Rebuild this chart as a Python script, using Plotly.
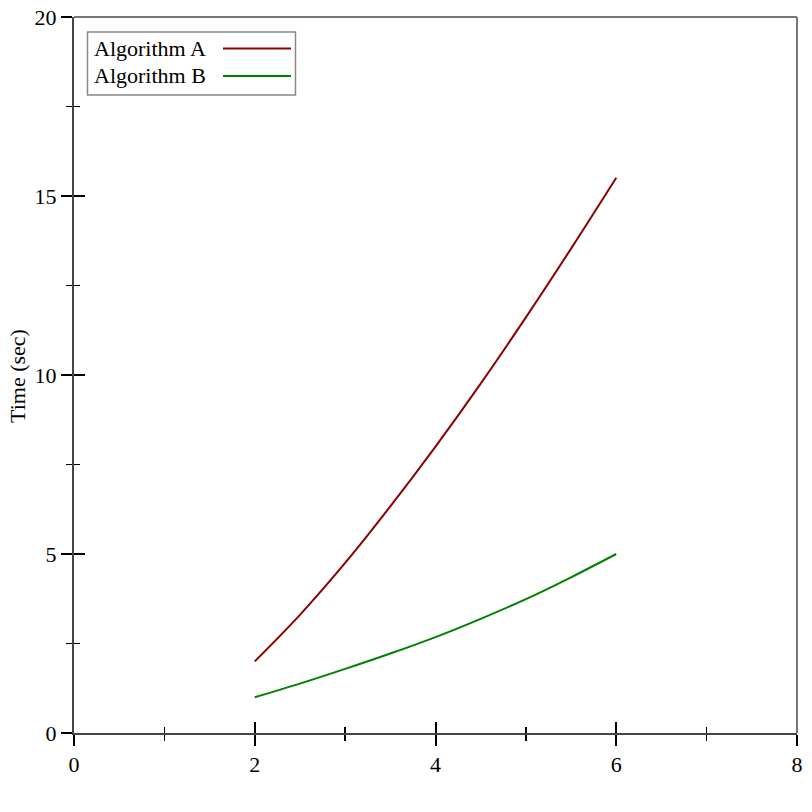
import plotly.graph_objects as go

# ---- data ----
x_vals = [2.0, 2.5, 3.0, 3.5, 4.0, 4.5, 5.0, 5.5, 6.0]
algo_a = [2.0, 3.30, 4.75, 6.33, 8.0, 9.76, 11.61, 13.53, 15.51]
algo_b = [1.0, 1.38, 1.79, 2.22, 2.68, 3.19, 3.74, 4.35, 5.0]
series_names = ["Algorithm A", "Algorithm B"]
series_colors = ["#8b0000", "#008000"]
x_ticks = [0, 2, 4, 6, 8]
y_ticks = [0, 5, 10, 15, 20]
y_title = "Time (sec)"

# the page body margin is removed below, so the figure sits at (0, 0)
W, H = 812, 812
PX0, PX1, PY0, PY1 = 74, 797, 17, 733   # plot area in page pixels
L, R, T, B = PX0, W - PX1, PY0, H - PY1

def px_x(p):
    return (p - PX0) / (PX1 - PX0)

def px_y(p):
    return (PY1 - p) / (PY1 - PY0)

FONT = "Liberation Serif, Times New Roman, serif"
FS = 22

fig = go.Figure()
for name, ys, col in zip(series_names, [algo_a, algo_b], series_colors):
    fig.add_trace(go.Scatter(x=x_vals, y=ys, mode="lines", name=name,
                             line=dict(color=col, width=2, shape="spline"),
                             showlegend=False, hoverinfo="skip"))
# invisible trace for the inner-tick overlay axes
fig.add_trace(go.Scatter(x=[0], y=[0], xaxis="x2", yaxis="y2", mode="markers",
                         marker=dict(opacity=0), showlegend=False, hoverinfo="skip"))

common = dict(showgrid=False, zeroline=False, linecolor="#444", linewidth=2,
              tickcolor="black", tickwidth=2, ticklen=11)
tfont = dict(family=FONT, size=FS, color="black")

fig.update_layout(
    width=W, height=H,
    margin=dict(l=L, r=R, t=T, b=B, autoexpand=False),
    paper_bgcolor="white", plot_bgcolor="white",
    font=dict(family=FONT, size=FS, color="black"),
    xaxis=dict(range=[0, 8], tickvals=x_ticks, ticks="outside", showline=True,
               tickfont=tfont, ticklabeloverflow="allow",
               minor=dict(ticks="outside", dtick=1, ticklen=6, tickwidth=1.5, tickcolor="black"),
               **common),
    yaxis=dict(range=[0, 20], tickvals=y_ticks, ticks="outside", showline=True,
               tickfont=tfont, ticklabeloverflow="allow",
               minor=dict(ticks="outside", dtick=2.5, ticklen=6, tickwidth=1.5, tickcolor="black"),
               **common),
    xaxis2=dict(range=[0, 8], tickvals=x_ticks, ticks="inside", overlaying="x", anchor="y2",
                showticklabels=False, showline=False,
                minor=dict(ticks="inside", dtick=1, ticklen=6, tickwidth=1.5, tickcolor="black"),
                **common),
    yaxis2=dict(range=[0, 20], tickvals=y_ticks, ticks="inside", overlaying="y", anchor="x2",
                side="left", showticklabels=False, showline=False,
                minor=dict(ticks="inside", dtick=2.5, ticklen=6, tickwidth=1.5, tickcolor="black"),
                **common),
)

shapes = [
    # top and right frame lines
    dict(type="line", xref="paper", yref="paper", x0=0, x1=1, y0=1, y1=1,
         line=dict(color="#777", width=2), layer="below"),
    dict(type="line", xref="paper", yref="paper", x0=1, x1=1, y0=0, y1=1,
         line=dict(color="#777", width=2), layer="below"),
    # legend box
    dict(type="rect", xref="paper", yref="paper", x0=px_x(87.5), x1=px_x(295.5),
         y0=px_y(95), y1=px_y(32), line=dict(color="#888", width=1.5), fillcolor="white"),
]
annotations = [
    dict(xref="paper", yref="paper", x=px_x(17), y=px_y(376), textangle=-90,
         xanchor="center", yanchor="middle", showarrow=False, text=y_title,
         font=dict(family=FONT, size=FS, color="black")),
]
for i, (name, col) in enumerate(zip(series_names, series_colors)):
    yc = 48.5 + i * 27.5
    shapes.append(dict(type="line", xref="paper", yref="paper", x0=px_x(223), x1=px_x(291),
                       y0=px_y(yc), y1=px_y(yc), line=dict(color=col, width=2)))
    annotations.append(dict(xref="paper", yref="paper", x=px_x(91.5), y=px_y(yc),
                            xanchor="left", yanchor="middle", showarrow=False, text=name,
                            font=dict(family=FONT, size=FS, color="black")))
fig.update_layout(shapes=shapes, annotations=annotations)

fig.write_html("out.html",
               config={"displayModeBar": False, "staticPlot": True},
               post_script="document.body.style.margin='0';document.body.style.overflow='hidden';")
